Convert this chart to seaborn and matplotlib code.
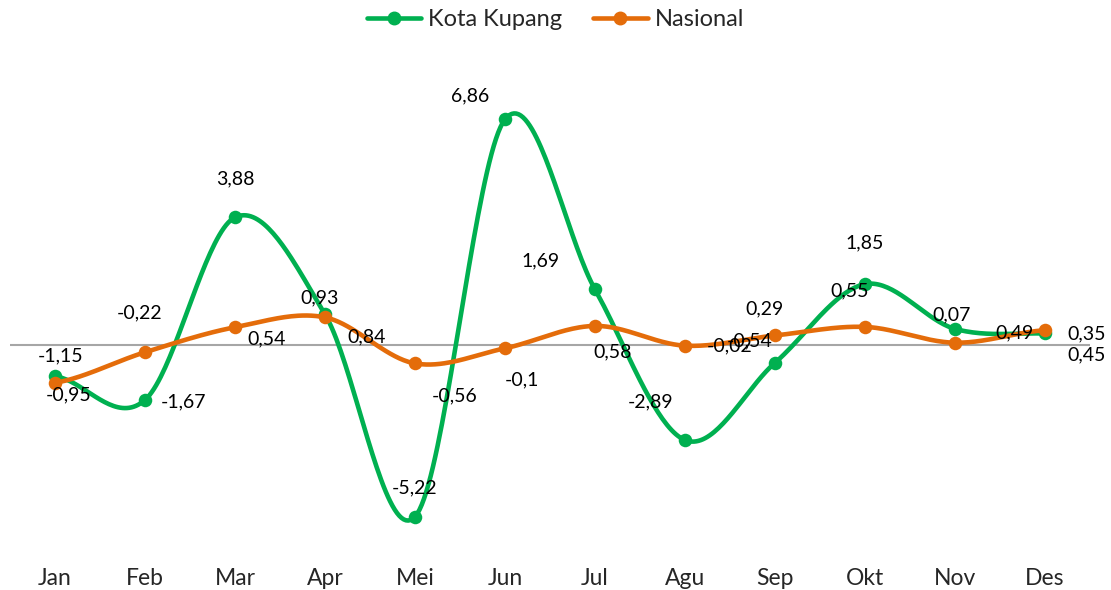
import numpy as np
import pandas as pd
import matplotlib
matplotlib.use("Agg")
import matplotlib.pyplot as plt
import seaborn as sns

# data (monthly inflation, %)
months = ["Jan", "Feb", "Mar", "Apr", "Mei", "Jun", "Jul", "Agu", "Sep", "Okt", "Nov", "Des"]
kupang = [-0.95, -1.67, 3.88, 0.93, -5.22, 6.86, 1.69, -2.89, -0.54, 1.85, 0.49, 0.35]
nasional = [-1.15, -0.22, 0.54, 0.84, -0.56, -0.10, 0.58, -0.02, 0.29, 0.55, 0.07, 0.45]

# label offsets in pixels (dx, dy), matching the placement in the source
kupang_off = [(14, -19), (39, -2), (0, 38), (-5, 17), (0, 29), (-35, 23),
              (-54, 29), (-34, 38), (-25, 22), (0, 41), (60, -4), (42, 0)]
nasional_off = [(6, 27), (-5, 39), (32, -12), (42, -20), (40, -32), (17, -32),
                (18, -26), (45, 0), (-10, 27), (-15, 36), (-3, 28), (42, -25)]

GREEN = "#00B050"
ORANGE = "#E46C0A"


def smooth(y, steps=40):
    # Catmull-Rom style smoothing like Excel's "smoothed line"
    x = np.arange(len(y), dtype=float)
    y = np.asarray(y, dtype=float)
    px = np.concatenate([[2 * x[0] - x[1]], x, [2 * x[-1] - x[-2]]])
    py = np.concatenate([[y[0]], y, [y[-1]]])
    xs, ys = [], []
    for i in range(1, len(px) - 2):
        p0, p1, p2, p3 = py[i - 1], py[i], py[i + 1], py[i + 2]
        q0, q1, q2, q3 = px[i - 1], px[i], px[i + 1], px[i + 2]
        t = np.linspace(0, 1, steps, endpoint=False)
        c = lambda a0, a1, a2, a3: 0.5 * (2 * a1 + (-a0 + a2) * t
                                         + (2 * a0 - 5 * a1 + 4 * a2 - a3) * t ** 2
                                         + (-a0 + 3 * a1 - 3 * a2 + a3) * t ** 3)
        xs.append(c(q0, q1, q2, q3))
        ys.append(c(p0, p1, p2, p3))
    xs.append([x[-1]])
    ys.append([y[-1]])
    return np.concatenate(xs), np.concatenate(ys)


sns.set_theme(style="white")
plt.rcParams["font.family"] = ["Lato", "DejaVu Sans"]

fig = plt.figure(figsize=(11.11, 5.9), dpi=100)
W, H = 1111, 590
left, right, top, bottom = 10, 1090, 82, 560
ax = fig.add_axes([left / W, 1 - bottom / H, (right - left) / W, (bottom - top) / H])

scale = 32.9  # px per unit
ax.set_xlim(-0.5, 11.5)
ax.set_ylim(-(bottom - 345) / scale, (345 - top) / scale)

ax.axhline(0, color="#A6A6A6", lw=1.5, zorder=1)

for vals, col, z in [(kupang, GREEN, 3), (nasional, ORANGE, 4)]:
    sx, sy = smooth(vals)
    sm = pd.DataFrame({"x": sx, "y": sy})
    sns.lineplot(data=sm, x="x", y="y", ax=ax, color=col, lw=3.3, zorder=z, sort=False)
    pts = pd.DataFrame({"x": np.arange(len(vals)), "y": vals})
    sns.scatterplot(data=pts, x="x", y="y", ax=ax, color=col, s=95, edgecolor=col,
                    linewidth=0, zorder=z + 0.5)

for vals, offs in [(kupang, kupang_off), (nasional, nasional_off)]:
    for i, (v, (dx, dy)) in enumerate(zip(vals, offs)):
        lab = f"{v:g}".replace(".", ",")
        ax.annotate(lab, (i, v), xytext=(dx * 0.72, dy * 0.72), textcoords="offset points",
                    ha="center", va="center", fontsize=14, color="#000000", zorder=6)

ax.set_xticks(range(len(months)))
ax.set_xticklabels(months, fontsize=16.5)
ax.tick_params(axis="x", length=0, pad=6)
ax.set_yticks([])
ax.set_xlabel("")
ax.set_ylabel("")
for s in ax.spines.values():
    s.set_visible(False)

handles = [
    plt.Line2D([], [], color=GREEN, lw=3.3, marker="o", ms=9),
    plt.Line2D([], [], color=ORANGE, lw=3.3, marker="o", ms=9),
]
fig.legend(handles, ["Kota Kupang", "Nasional"], loc="center", bbox_to_anchor=(0.5, 1 - 20 / H),
           ncol=2, frameon=False, fontsize=17, handlelength=2.3, columnspacing=1.3,
           handletextpad=0.3)

fig.savefig("out.png", dpi=100)
